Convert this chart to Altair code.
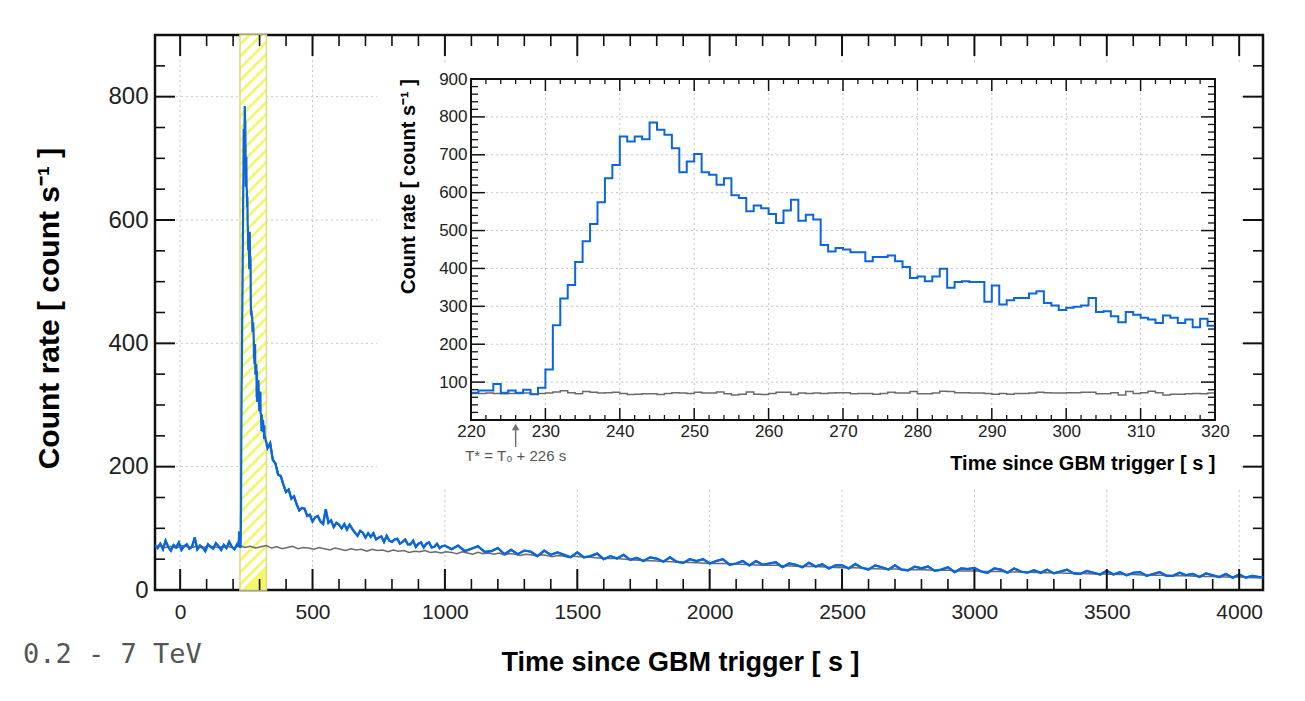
import altair as alt
import pandas as pd

W, H = 1108, 555
FONT = "Liberation Sans"
BLUE = "#0b67d9"
GRAY = "#6b6b6b"
STRIPE = "#f6f66e"

# ---------------- data ----------------
x_domain = [-95, 4090]
y_domain = [0, 900]
inset_x_domain = [220, 320]
inset_y_domain = [0, 900]

# main light curve: before the burst (10 s bins)
pre_t = list(range(-95, 220, 10))
pre_rate = [72, 68, 75, 66, 80, 70, 64, 73, 69, 77,
            65, 71, 74, 67, 70, 85, 66, 72, 69, 63,
            74, 70, 67, 76, 71, 65, 73, 68, 78, 70,
            66, 74]

# burst, 1 s bins (also the inset)
burst_t = list(range(220, 320))
burst_rate = [72, 78, 78, 95, 72, 78, 72, 80, 68, 85,
              133, 250, 321, 356, 417, 472, 517, 575, 638, 673,
              748, 735, 748, 741, 785, 766, 753, 717, 654, 682,
              702, 654, 647, 621, 638, 593, 586, 551, 566, 559,
              544, 520, 553, 581, 526, 542, 529, 462, 445, 454,
              450, 443, 443, 419, 430, 430, 434, 419, 404, 375,
              379, 366, 379, 399, 349, 364, 366, 364, 364, 312,
              355, 305, 316, 322, 322, 334, 340, 309, 302, 290,
              296, 299, 302, 322, 285, 287, 274, 258, 285, 278,
              270, 265, 256, 276, 270, 256, 265, 245, 267, 249]
burst_bkg = [70, 70, 71, 70, 69, 70, 70, 71, 68, 70,
             71, 74, 77, 72, 69, 75, 73, 71, 72, 73,
             70, 67, 68, 69, 69, 67, 70, 72, 71, 70,
             73, 71, 71, 74, 69, 66, 68, 74, 68, 67,
             70, 73, 73, 67, 71, 70, 71, 70, 71, 72,
             72, 69, 70, 70, 68, 70, 73, 71, 71, 75,
             69, 69, 71, 76, 75, 72, 72, 71, 71, 70,
             68, 70, 68, 70, 70, 71, 73, 72, 71, 71,
             72, 72, 73, 73, 69, 69, 72, 66, 75, 70,
             72, 76, 72, 66, 68, 68, 69, 70, 69, 71]

# after the burst (10 s bins)
post_t = list(range(320, 1000, 10))
post_rate = [249, 230, 238, 211, 205, 187, 185, 171, 159, 163,
             148, 152, 139, 129, 133, 132, 120, 122, 111, 118,
             120, 111, 107, 131, 109, 113, 102, 109, 106, 100,
             107, 98, 106, 99, 93, 88, 96, 93, 85, 92,
             86, 92, 82, 85, 87, 78, 88, 80, 78, 82,
             83, 75, 78, 82, 74, 74, 80, 70, 75, 77,
             69, 75, 77, 69, 70, 75, 68, 71]

# tail (25 s bins)
tail_t = list(range(1000, 4100, 25))
tail_rate = [72, 66, 72, 63, 67, 71, 62, 63, 68, 58,
             65, 58, 64, 62, 55, 64, 57, 61, 57, 53,
             61, 53, 55, 59, 50, 55, 51, 57, 49, 52,
             47, 53, 51, 46, 53, 46, 44, 50, 47, 50,
             43, 47, 50, 41, 43, 47, 40, 47, 41, 43,
             45, 37, 43, 41, 37, 44, 38, 42, 35, 40,
             40, 35, 42, 36, 33, 40, 37, 33, 40, 33,
             32, 38, 35, 38, 31, 33, 37, 29, 35, 34,
             36, 30, 28, 35, 33, 28, 35, 30, 28, 32,
             28, 33, 27, 30, 33, 27, 26, 31, 28, 25,
             31, 25, 29, 24, 28, 29, 23, 26, 29, 23,
             23, 28, 24, 26, 21, 27, 24, 21, 26, 20,
             25, 20, 23, 21]

# background (gray)
gray_t = list(range(-95, 1506, 20)) + list(range(1550, 4051, 50))
gray_rate = [70, 72, 69, 71, 68, 72, 70, 69, 71, 68, 72, 70, 69, 71, 70, 68,
             72, 69, 71, 68, 70, 72, 68, 70, 67, 69,
             71, 67, 69, 68, 66, 69, 67, 65, 68, 66,
             64, 67, 65, 66, 63, 66, 64, 65, 62, 65,
             63, 64, 61, 63, 62, 64, 61, 62, 60, 62,
             61, 59, 62, 60, 58, 61, 59, 60, 58, 60,
             57, 59, 58, 56, 58, 57, 55, 57, 56, 54,
             56, 55, 53, 55, 54,
             53, 51, 51, 49, 48, 47, 46, 45, 44, 43,
             43, 42, 41, 40, 40, 39, 38, 38, 37, 36,
             36, 35, 34, 34, 33, 33, 32, 32, 31, 31,
             30, 30, 29, 29, 28, 28, 27, 27, 26, 26,
             25, 25, 24, 24, 23, 23, 22, 22, 21, 21,
             20]

assert len(pre_t) == len(pre_rate)
assert len(burst_t) == len(burst_rate) == len(burst_bkg)
assert len(post_t) == len(post_rate)
assert len(tail_t) == len(tail_rate)
assert len(gray_t) == len(gray_rate)

band_start, band_end = 226, 326
tstar = 226
energy_label = "0.2 - 7 TeV"
tstar_label = "T* = T\u2080 + 226 s"
x_title = "Time since GBM trigger [ s ]"
y_title = "Count rate [ count s\u207b\u00b9 ]"

x_major = list(range(0, 4001, 500))
x_minor = [v for v in range(0, 4001, 100) if v % 500]
y_major = [0, 200, 400, 600, 800]
y_minor = [v for v in range(50, 900, 50) if v % 200]
ix_major = list(range(220, 321, 10))
ix_minor = [v for v in range(222, 320, 2) if v % 10]
iy_major = list(range(100, 901, 100))
iy_minor = [v for v in range(20, 900, 20) if v % 100]

# ---------------- tables ----------------
blue_df = pd.DataFrame({"t": pre_t + burst_t + post_t + tail_t + [x_domain[1]],
                        "rate": pre_rate + burst_rate + post_rate + tail_rate + [tail_rate[-1]]})
gray_df = pd.DataFrame({"t": gray_t + [x_domain[1]], "rate": gray_rate + [gray_rate[-1]]})
inset_df = pd.DataFrame({"t": burst_t + [inset_x_domain[1]],
                         "blue": burst_rate + [burst_rate[-1]],
                         "gray": burst_bkg + [burst_bkg[-1]]})
one = pd.DataFrame({"a": [0]})

GRID = dict(color="#c4c4c4", strokeDash=[2, 3], strokeWidth=1)

# ---------------- main panel scales / axes ----------------
xs = alt.Scale(domain=x_domain, nice=False, zero=False)
ys = alt.Scale(domain=y_domain, nice=False, zero=False)

main_x_axis = alt.Axis(orient="bottom", values=x_major, format="d", ticks=False, tickSize=0,
                       domain=False, grid=False, labelFont=FONT, labelFontSize=21, labelColor="#222",
                       labelPadding=11, labelFlush=False, labelOverlap=False,
                       title=x_title, titleFont=FONT, titleFontSize=27, titleFontWeight="bold",
                       titleColor="black", titleX=525, titleY=80, titleAlign="center",
                       titleBaseline="alphabetic", zindex=1)
main_y_axis = alt.Axis(orient="left", values=y_major, format="d", ticks=False, tickSize=0,
                       domain=False, grid=False, labelFont=FONT, labelFontSize=24, labelColor="#222",
                       labelPadding=7, labelFlush=False, labelOverlap=False,
                       title=y_title, titleFont=FONT, titleFontSize=30, titleFontWeight="bold",
                       titleColor="black", titleAngle=270, titleX=-106, titleY=273,
                       titleAlign="center", titleBaseline="middle", zindex=1)

# ---------------- inset scales / axes ----------------
IX0, IX1 = 316, 1060   # inset frame left/right inside the main plot
IY0, IY1 = 44, 385     # inset frame top/bottom
ixs = alt.Scale(domain=inset_x_domain, range=[IX0, IX1], nice=False, zero=False)
iys = alt.Scale(domain=inset_y_domain, range=[IY1, IY0], nice=False, zero=False)

inset_x_axis = alt.Axis(orient="bottom", offset=-(H - IY1), values=ix_major, format="d", ticks=False,
                        tickSize=0, domain=False, grid=False, labelFont=FONT, labelFontSize=17,
                        labelColor="#222", labelPadding=3, labelFlush=False, labelOverlap=False,
                        title=x_title, titleFont=FONT, titleFontSize=20, titleFontWeight="bold",
                        titleColor="black", titleX=IX1, titleY=49, titleAlign="right",
                        titleBaseline="alphabetic", zindex=1)
inset_y_axis = alt.Axis(orient="left", offset=-IX0, values=iy_major, format="d", ticks=False,
                        tickSize=0, domain=False, grid=False, labelFont=FONT, labelFontSize=17,
                        labelColor="#222", labelPadding=4, labelFlush=False, labelOverlap=False,
                        title=y_title, titleFont=FONT, titleFontSize=20, titleFontWeight="bold",
                        titleColor="black", titleAngle=270, titleX=-63, titleY=151,
                        titleAlign="center", titleBaseline="middle", zindex=1)

MAIN = {"x": (xs, main_x_axis), "y": (ys, main_y_axis)}
INSET = {"x": (ixs, inset_x_axis), "y": (iys, inset_y_axis)}


def X(field, p):
    return alt.X(field, scale=p["x"][0], axis=p["x"][1])


def Y(field, p):
    return alt.Y(field, scale=p["y"][0], axis=p["y"][1])


def xticks(vals, p, y0, y1, w, color="#111"):
    return alt.Chart(pd.DataFrame({"v": vals})).mark_rule(color=color, strokeWidth=w).encode(
        x=X("v:Q", p), y=alt.value(y0), y2=alt.value(y1))


def yticks(vals, p, x0, x1, w, color="#111"):
    return alt.Chart(pd.DataFrame({"v": vals})).mark_rule(color=color, strokeWidth=w).encode(
        y=Y("v:Q", p), x=alt.value(x0), x2=alt.value(x1))


# ---------------- main panel ----------------
grid_x = alt.Chart(pd.DataFrame({"v": x_major})).mark_rule(**GRID).encode(x=X("v:Q", MAIN))
grid_y = alt.Chart(pd.DataFrame({"v": y_major[1:]})).mark_rule(**GRID).encode(y=Y("v:Q", MAIN))

# hatched band (stripes drawn as a striped linear gradient)
band_w = (band_end - band_start) * W / (x_domain[1] - x_domain[0])
r = band_w / H
hp = H * (1 + r * r)
stops = []
p = 0.0
while p / hp < 1:
    a, b, c = p / hp, min((p + 8) / hp, 1), min((p + 12) / hp, 1)
    stops += [alt.GradientStop(color="white", offset=a), alt.GradientStop(color="white", offset=b),
              alt.GradientStop(color=STRIPE, offset=b), alt.GradientStop(color=STRIPE, offset=c)]
    p += 12
hatch = alt.LinearGradient(gradient="linear", stops=stops, x1=0, y1=0, x2=r, y2=1)

band = alt.Chart(pd.DataFrame({"start": [band_start], "end": [band_end]})).mark_rect(
    fill=hatch, stroke="#dcdc8e", strokeWidth=1.6).encode(x=X("start:Q", MAIN), x2="end:Q")

gray_line = alt.Chart(gray_df).mark_line(color=GRAY, strokeWidth=1.5, clip=True).encode(
    x=X("t:Q", MAIN), y=Y("rate:Q", MAIN))
blue_line = alt.Chart(blue_df).mark_line(color=BLUE, strokeWidth=2.2, clip=True).encode(
    x=X("t:Q", MAIN), y=Y("rate:Q", MAIN))

main_ticks = [
    xticks(x_major, MAIN, H, H - 21, 2), xticks(x_minor, MAIN, H, H - 11, 1.6),
    xticks(x_major, MAIN, 0, 21, 2), xticks(x_minor, MAIN, 0, 11, 1.6),
    yticks(y_major, MAIN, 0, 20, 2), yticks(y_minor, MAIN, 0, 10, 1.6),
    yticks(y_major, MAIN, W, W - 20, 2), yticks(y_minor, MAIN, W, W - 10, 1.6),
]

energy = alt.Chart(pd.DataFrame({"label": [energy_label]})).mark_text(
    font="DejaVu Sans Mono", fontSize=27, color="#555", align="left", baseline="alphabetic").encode(
    x=alt.value(-132), y=alt.value(628), text="label:N")

main = alt.layer(blue_line, grid_x, grid_y, band, gray_line, blue_line, *main_ticks, energy)

# ---------------- inset panel ----------------
pad = alt.Chart(one).mark_rect(fill="white").encode(
    x=alt.value(222), x2=alt.value(1085), y=alt.value(30), y2=alt.value(452))

igrid_x = alt.Chart(pd.DataFrame({"v": ix_major[1:-1], "lo": inset_y_domain[0],
                                  "hi": inset_y_domain[1]})).mark_rule(**GRID).encode(
    x=X("v:Q", INSET), y=Y("lo:Q", INSET), y2="hi:Q")
igrid_y = alt.Chart(pd.DataFrame({"v": iy_major[:-1], "lo": inset_x_domain[0],
                                  "hi": inset_x_domain[1]})).mark_rule(**GRID).encode(
    y=Y("v:Q", INSET), x=X("lo:Q", INSET), x2="hi:Q")

igray = alt.Chart(inset_df).mark_line(color=GRAY, strokeWidth=1.5, interpolate="step-after").encode(
    x=X("t:Q", INSET), y=Y("gray:Q", INSET))
iblue = alt.Chart(inset_df).mark_line(color=BLUE, strokeWidth=2, interpolate="step-after").encode(
    x=X("t:Q", INSET), y=Y("blue:Q", INSET))

inset_ticks = [
    xticks(ix_major, INSET, IY1, IY1 - 12, 1.5), xticks(ix_minor, INSET, IY1, IY1 - 5, 1.3),
    xticks(ix_major, INSET, IY0, IY0 + 12, 1.5), xticks(ix_minor, INSET, IY0, IY0 + 5, 1.3),
    yticks(iy_major, INSET, IX0, IX0 + 14, 1.5), yticks(iy_minor, INSET, IX0, IX0 + 7, 1.3),
    yticks(iy_major, INSET, IX1, IX1 - 14, 1.5), yticks(iy_minor, INSET, IX1, IX1 - 7, 1.3),
]

frame = alt.Chart(pd.DataFrame({"x0": [inset_x_domain[0]], "x1": [inset_x_domain[1]],
                                "y0": [inset_y_domain[0]], "y1": [inset_y_domain[1]]})).mark_rect(
    fillOpacity=0, stroke="#111", strokeWidth=2).encode(
    x=X("x0:Q", INSET), x2="x1:Q", y=Y("y0:Q", INSET), y2="y1:Q")

tdf = pd.DataFrame({"t": [tstar], "label": [tstar_label]})
arrow_stem = alt.Chart(tdf).mark_rule(color="#707070", strokeWidth=1.5).encode(
    x=X("t:Q", INSET), y=alt.value(394), y2=alt.value(412))
arrow_head = alt.Chart(tdf).mark_point(shape="triangle-up", filled=True, size=60, color="#707070",
                                       opacity=1).encode(x=X("t:Q", INSET), y=alt.value(392))
tstar_text = alt.Chart(tdf).mark_text(font=FONT, fontSize=15, color="#555", align="center",
                                      baseline="alphabetic").encode(
    x=X("t:Q", INSET), y=alt.value(426), text="label:N")

inset = alt.layer(iblue, pad, igrid_x, igrid_y, igray, iblue, *inset_ticks, frame,
                  arrow_stem, arrow_head, tstar_text)

chart = alt.layer(main, inset).resolve_scale(x="independent", y="independent").properties(
    width=W, height=H,
    padding={"left": 147, "top": 27, "right": 34, "bottom": 103},
    autosize=alt.AutoSizeParams(type="none"),
    background="white",
).configure_view(stroke="#111", strokeWidth=2.5)

chart.save("out.html", embed_options={"renderer": "svg", "actions": False})
